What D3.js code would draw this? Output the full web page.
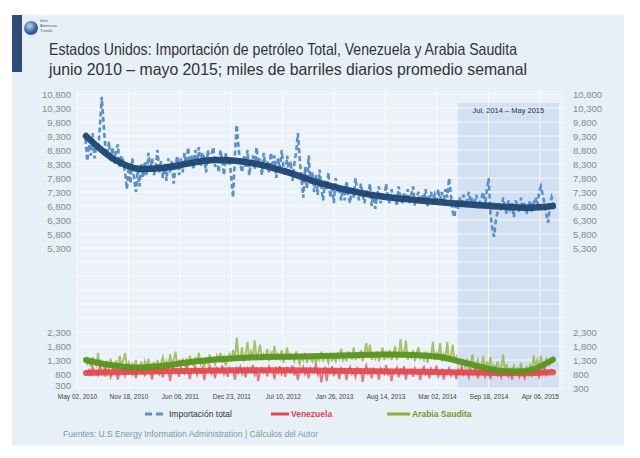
<!DOCTYPE html>
<html><head><meta charset="utf-8">
<script src="https://cdn.jsdelivr.net/npm/d3@7"></script>
<style>body{margin:0;background:#fff;} svg{display:block;font-family:"Liberation Sans",Arial,sans-serif;}</style>
</head><body><svg id="c" width="640" height="458"></svg>
<script>
// ---------- DATA ----------
const titleLines = [
  "Estados Unidos: Importación de petróleo Total, Venezuela y Arabia Saudita",
  "junio 2010 – mayo 2015; miles de barriles diarios promedio semanal"
];
const tickDates = ["2010-05-02","2010-11-18","2011-06-06","2011-12-23","2012-07-10",
  "2013-01-26","2013-08-14","2014-03-02","2014-09-18","2015-04-06"];
const axisDomain = ["2010-05-02","2015-07-05"];
const yLabelValues = [300,800,1300,1800,2300,5300,5800,6300,6800,7300,7800,8300,8800,9300,9800,10300,10800];
const yGridValues = [300,800,1300,1800,2300,2800,3300,3800,4300,4800,5300,5800,6300,6800,7300,7800,8300,8800,9300,9800,10300,10800];
const seriesStart = "2010-06-04"; // weekly data (Fridays)
const totalImports = [
 9200,8400,9000,8600,9400,8500,9000,8800, 9600,10700,9800,8900,
 8600,9100,8400,8900,8300,8800,9000,8200,8600,8400,
 8000,7400,8200,7600,8500,7800,7300,8100,7500,8300,7800,
 8400,7900,8700,8100,8500,7900,8200,8800,8000,8400,7800,
 8300,7700,8500,8000,8400,7600,8200,8600,7900,
 8500,8000,8700,8200,8900,8300,8600,8100,8800,8400,8900,8200,8700,8500,8000,8800,8300,8600,
 8900,8200,8600,8000,8800,8400,7900,8700,8300,8500,7800,
 7100, 8600,9700,8900,
 8300,8000,8600,8200,8800,7900,8400,8600,8100,8900,8300,8500,7900,8700,8200,8400,8000,8700,8300,8600,7800,8500,8100,8800,8200,7900,8600,8000,8400,7700,8300,
 8700,9400,8500,
 7800,7100,8200,7400,8600,7600,8000,7300,
 7900,7200,8100,7500,7000,7700,7400,8000,7100,7600,6900,7800,7300,7500,7000,
 7400,7000,7700,7200,6900,7500,7100,7800,7300,7000,7600,7200,6900,7400,7100,7600,6800,7300,6700,
 7200,7500,6900,7300,7000,7600,7100,6900,7400,7000,7200,6800,7500,7100,6900,7300,
 7000,7400,6900,7200,7500,6800,7100,7300,6900,7200,7000,7400,6800,7100,7300,6900,7200,7000,7400,
 7000,7300,6900,7400,7100,
 7800,7200,
 6600,6400,7000,6700,
 7100,6900,7200,6800,7000,7300,6900,7100,6800,7200,7000,6900,7100,7300,6800,
 7400,7800,
 6500,6000,5700,6300,6600,
 6900,6600,7100,6800,6500,7000,6700,6900,6400,7000,6800,6600,7100,6700,6900,6500,6800,7000,6600,
 6900,7100,6800,7300,7500,
 7200,6900,6500,6200,6800,7100,6900
];
const venezuela = [
 900,850,950,800,1050,880,920,780,1100,900, 850,1000,820,950,700,900,1050,850,600,920,
 880,1000,750,950,850,1080,800,930,650,900, 1000,850,950,720,1050,880,900,600,950,850,
 1100,800,920,680,1000,880,950,550,900,1050, 850,950,700,1000,900,820,1120,880,620,950,
 900,1050,780,950,850,1000,580,920,880,1080, 820,950,650,1000,900,850,1100,800,950,700,
 1000,880,920,600,980,850,1050,800,950,680, 1000,900,850,1120,780,950,550,900,1000,850,
 950,720,1050,880,920,620,980,850,1080,800, 950,700,1000,880,850,1100,750,950,580,920,
 880,1050,800,950,650,1000,900,850,1150,780, 920,500,880,1000,550,950,850,1080,720,950,
 900,620,1000,850,950,580,920,1050,800,900, 700,1000,880,950,520,900,1100,820,950,650,
 980,850,920,600,1000,880,800,1120,750,950, 550,900,880,1020,680,950,850,1080,600,920,
 880,950,700,1000,850,900,580,950,1050,800, 920,650,980,850,900,1100,720,880,950,600,
 900,850,1000,750,920,880,620,950,820,1050, 780,900,850,680,950,800,880,1000,650,900,
 820,950,700,880,850,620,920,800,1000,750, 880,680,900,820,950,720,850,600,920,800,
 880,700,950,820,650,900,850,1000,750,880, 800,950,700,900,850,1020,780,920,880,950,
 900
];
const saudiArabia = [
 1300,1150,1250,1050,1400,1200,1100,1550,1000,1250, 1100,700,1200,1050,1350,950,1150,1250,1000,1450,
 1100,1300,1550,1050,1200,900,1150,1000,1300,850, 1100,1200,950,1250,1050,1350,1000,1150,1200,950,
 1300,1050,1200,1400,1100,1250,1000,1500,1150,1300, 1600,1100,1250,1000,1350,1150,1300,1050,1450,1200,
 1100,1350,1250,1550,1150,1300,1050,1400,1200,1500, 1250,1350,1150,1450,1300,1550,1200,1400,1100,1350,
 1500,1250,1650,1300,2100,1450,1350,1750,1250,1500, 1950,1300,1600,1400,2000,1350,1550,1850,1300,1500,
 1400,1700,1250,1550,1400,1800,1300,1500,1350,1650, 1200,1450,1750,1300,1500,1400,1250,1600,1350,1150,
 1450,1300,1550,1200,1400,1350,1250,1500,1150,1400, 1300,1600,1250,1450,1350,1200,1550,1300,1400,1250,
 1500,1350,1700,1300,1450,1250,1600,1400,1350,1750, 1300,1500,1400,1650,1250,1550,1900,1400,1850,1300,
 1500,1350,1600,1250,1450,1750,1300,1550,1400,1650, 1300,1500,1800,1350,1450,2050,1400,1550,2000,1300,
 1500,1400,1650,1250,1550,1750,1350,1450,1300,1600, 1200,1500,1400,1950,1300,1550,1450,1900,1250,1500,
 1350,1950,1250,1450,1850,1200,1400,1150,1300,1100, 1250,1050,1350,950,1200,1500,1000,1150,1300,900,
 1100,1450,950,1200,1050,1400,900,1100,1000,1250, 850,1050,1500,900,1150,800,1000,950,1100,850,
 1000,900,1200,800,950,1050,850,1100,900,1450, 1100,1300,1000,1450,1200,1050,1350,1250,1150,1300,
 1200
];
// polynomial trend lines
const totalTrendDates = ["2010-06-06","2010-07-30","2010-09-27","2010-12-13","2011-03-21","2011-06-26","2011-10-01","2012-01-06","2012-04-12","2012-08-07","2012-12-02","2013-03-28","2013-07-23","2013-12-26","2014-05-30","2014-11-02","2015-02-26","2015-05-27"];
const totalTrendValues = [9300,8850,8450,8150,8150,8300,8430,8420,8280,7980,7620,7350,7150,7000,6880,6780,6740,6800];
const saudiTrendDates = ["2010-06-06","2010-08-20","2010-12-13","2011-03-21","2011-06-26","2011-10-01","2012-01-06","2012-04-12","2012-08-07","2012-12-02","2013-03-28","2013-07-23","2013-12-26","2014-03-20","2014-05-30","2014-08-20","2014-11-02","2015-02-26","2015-05-27"];
const saudiTrendValues = [1300,1150,1030,1080,1200,1300,1360,1400,1420,1440,1470,1500,1470,1400,1250,1050,920,930,1320];
const venTrendDates = ["2010-06-06","2010-12-13","2011-06-26","2012-01-06","2012-08-07","2013-03-28","2013-12-26","2014-07-10","2015-02-26","2015-05-27"];
const venTrendValues = [840,880,910,930,930,910,880,850,830,860];
const highlightPeriod = ["2014-05-22","2015-06-19"];
const highlightLabel = "Jul. 2014 – May 2015";
const legendItems = [
  {name:"Importación total", color:"#5b8fcb", text:"#333", dash:"7,4", bold:false},
  {name:"Venezuela", color:"#e0474f", text:"#e0474f", dash:null, bold:true},
  {name:"Arabia Saudita", color:"#8db043", text:"#6f9a2c", dash:null, bold:true}
];
const sourceText = "Fuentes: U.S Energy Information Administration |  Cálculos del Autor";

// ---------- DRAW ----------
const parse = d3.timeParse("%Y-%m-%d");
const svg = d3.select("#c");
const W = 640, H = 458;
const plot = {left:77, right:563, top:90, bottom:388};

svg.append("rect").attr("width",W).attr("height",H).attr("fill","#ffffff");
svg.append("rect").attr("x",12).attr("y",15).attr("width",612).attr("height",430).attr("fill","#e7eff7");
svg.append("rect").attr("x",12).attr("y",15).attr("width",10).attr("height",57).attr("fill","#2f4c78");
// logo
const lg = svg.append("g");
const grad = svg.append("defs").append("radialGradient").attr("id","lgrad").attr("cx","40%").attr("cy","35%");
grad.append("stop").attr("offset","0%").attr("stop-color","#bcd6f0");
grad.append("stop").attr("offset","100%").attr("stop-color","#2d5c9a");
lg.append("circle").attr("cx",31).attr("cy",28).attr("r",7).attr("fill","url(#lgrad)");
["Inter","American","Trends"].forEach((t,i)=>lg.append("text").attr("x",40).attr("y",22+i*5).attr("font-size",4).attr("fill","#4a5a70").text(t));

// title
titleLines.forEach((t,i)=>{
  svg.append("text").attr("x",49).attr("y",55+i*20).attr("font-size",16.5)
    .attr("fill","#333").attr("font-family","'Liberation Sans',Arial,sans-serif")
    .attr("textLength", i===0?468:478).attr("lengthAdjust","spacingAndGlyphs").text(t);
});

const x = d3.scaleTime().domain(axisDomain.map(parse)).range([plot.left, plot.right]);
const y = d3.scaleLinear().domain([300,10800]).range([plot.bottom, 94]);

// plot bg
svg.append("rect").attr("x",plot.left).attr("y",plot.top).attr("width",plot.right-plot.left)
  .attr("height",plot.bottom-plot.top).attr("fill","#ebf2f9");

// highlight
const h0 = x(parse(highlightPeriod[0])), h1 = x(parse(highlightPeriod[1]));
svg.append("rect").attr("x",h0).attr("y",103).attr("width",h1-h0).attr("height",plot.bottom-103)
  .attr("fill","#c9d9ed").attr("opacity",0.75);

// grid
const grid = svg.append("g").attr("stroke","#ffffff").attr("stroke-width",1).attr("opacity",0.8);
yGridValues.forEach(v=>grid.append("line").attr("x1",plot.left).attr("x2",plot.right).attr("y1",y(v)).attr("y2",y(v)));
tickDates.forEach(d=>grid.append("line").attr("x1",x(parse(d))).attr("x2",x(parse(d))).attr("y1",plot.top).attr("y2",plot.bottom));

svg.append("text").attr("x",(h0+h1)/2).attr("y",113).attr("text-anchor","middle")
  .attr("font-size",7.5).attr("fill","#2b3440").text(highlightLabel);

// axes labels
const fmt = d3.format(",");
const yl = d3.axisLeft(y).tickValues(yLabelValues).tickFormat(fmt).tickSize(0).tickPadding(6);
const yr = d3.axisRight(y).tickValues(yLabelValues).tickFormat(fmt).tickSize(0).tickPadding(10);
const gl = svg.append("g").attr("transform",`translate(${plot.left},0)`).call(yl);
const gr = svg.append("g").attr("transform",`translate(${plot.right},0)`).call(yr);
[gl,gr].forEach(g=>{g.select(".domain").remove(); g.selectAll("text").attr("font-size",9.5).attr("fill","#8a8a8a").attr("font-family","'Liberation Sans',Arial,sans-serif");});
gl.selectAll(".tick").filter(d=>d===300).select("text").attr("dy","0.1em");

const xa = d3.axisBottom(x).tickValues(tickDates.map(parse)).tickFormat(d3.timeFormat("%b %d, %Y")).tickSize(0).tickPadding(6);
const gx = svg.append("g").attr("transform",`translate(0,${plot.bottom})`).call(xa);
gx.select(".domain").remove();
gx.selectAll("text").attr("font-size",6.5).attr("fill","#444").attr("font-family","'Liberation Sans',Arial,sans-serif");

// series
const start = parse(seriesStart);
const weekly = arr => arr.map((v,i)=>({d:d3.timeDay.offset(start,7*i), v}));
const line = d3.line().x(p=>x(p.d)).y(p=>y(p.v));
const smooth = d3.line().x(p=>x(p.d)).y(p=>y(p.v)).curve(d3.curveCatmullRom.alpha(0.5));
const pairs = (ds,vs)=>ds.map((d,i)=>({d:parse(d), v:vs[i]}));

svg.append("path").attr("d",line(weekly(totalImports))).attr("fill","none")
  .attr("stroke","#5b8fcb").attr("stroke-width",2.6).attr("stroke-dasharray","5,3");
svg.append("path").attr("d",smooth(pairs(totalTrendDates,totalTrendValues))).attr("fill","none")
  .attr("stroke","#1d4670").attr("stroke-width",6.5).attr("stroke-linecap","round").attr("opacity",0.95);

svg.append("path").attr("d",line(weekly(saudiArabia))).attr("fill","none")
  .attr("stroke","#9dbb5c").attr("stroke-width",2).attr("opacity",0.9);
svg.append("path").attr("d",line(weekly(venezuela))).attr("fill","none")
  .attr("stroke","#e2606a").attr("stroke-width",2).attr("opacity",0.85);
svg.append("path").attr("d",smooth(pairs(venTrendDates,venTrendValues))).attr("fill","none")
  .attr("stroke","#e4474b").attr("stroke-width",6).attr("stroke-linecap","round").attr("opacity",0.9);
svg.append("path").attr("d",smooth(pairs(saudiTrendDates,saudiTrendValues))).attr("fill","none")
  .attr("stroke","#5a9420").attr("stroke-width",6).attr("stroke-linecap","round").attr("opacity",0.95);

// legend
const legX = [145, 271, 387], legW = [22, 18, 23];
legendItems.forEach((it,i)=>{
  const g = svg.append("g");
  g.append("line").attr("x1",legX[i]).attr("x2",legX[i]+legW[i]).attr("y1",414).attr("y2",414)
    .attr("stroke",it.color).attr("stroke-width",3).attr("stroke-dasharray",it.dash);
  g.append("text").attr("x",legX[i]+legW[i]+2).attr("y",417).attr("font-size",8.5)
    .attr("font-weight",it.bold?"bold":"normal").attr("fill",it.text).text(it.name);
});
svg.append("text").attr("x",63).attr("y",437).attr("font-size",8.5).attr("fill","#8896a4").text(sourceText);
</script></body></html>
